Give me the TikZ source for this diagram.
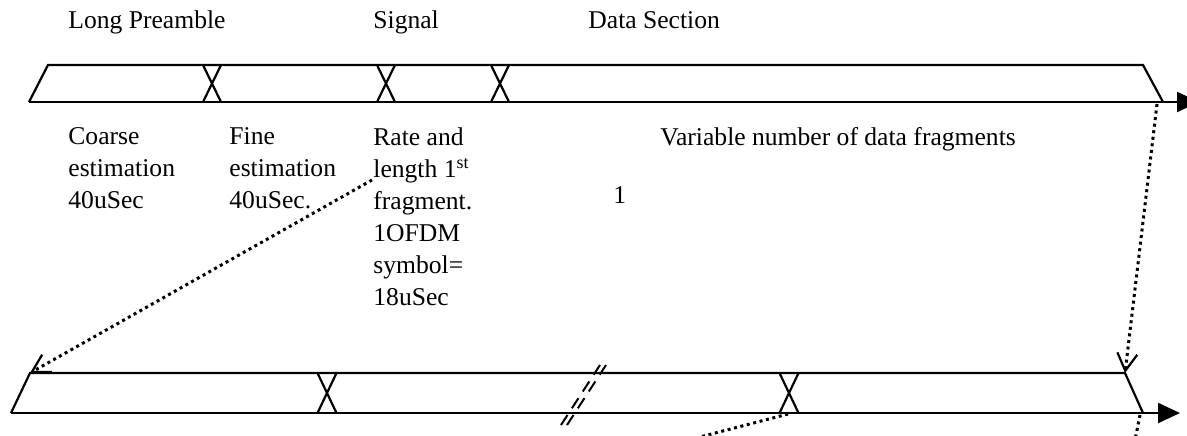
\documentclass[tikz,border=0pt]{standalone}
\usepackage{fontspec}
\setmainfont{Liberation Serif}
\usetikzlibrary{arrows.meta}
\begin{document}
\begin{tikzpicture}[x=0.5pt,y=-0.5pt,
  bar/.style={line width=1.1pt, line join=miter},
  brk/.style={line width=1pt, dash pattern=on 6pt off 4pt},
  dots/.style={line width=1.5pt, dash pattern=on 1.5pt off 1.8pt},
  barb/.style={-{Straight Barb[length=8.7pt,width=10pt,line width=1.1pt]}},
  tri/.style={-{Triangle[length=11pt,width=10pt]}},
  lbl/.style={anchor=base west, inner sep=0pt, font=\fontsize{12.8pt}{16pt}\selectfont},
  blk/.style={anchor=north west, inner sep=0pt, align=left, font=\fontsize{12.8pt}{16pt}\selectfont}]
\clip (0,0) rectangle (1187,435);
% top bar
\coordinate (tl) at (48,65);
\coordinate (tr) at (1143,65);
\coordinate (bl) at (29,102);
\coordinate (br) at (1163,102);
\coordinate (tend) at (1199,102);
\draw[bar] (bl) -- (tl) -- (tr) -- (br);
\draw[bar,tri] (bl) -- (tend);
\foreach \c in {212,386,500}
  \draw[bar] (\c-9,65) -- (\c+9,102) (\c+9,65) -- (\c-9,102);
% bottom bar
\coordinate (Bl) at (11,413);
\coordinate (Btl) at (30,373);
\coordinate (Btr) at (1125,373);
\coordinate (Bbr) at (1143,413);
\coordinate (Bend) at (1180,413);
\draw[bar] (Bl) -- (Btl) -- (Btr) -- (Bbr);
\draw[bar,tri] (Bl) -- (Bend);
\foreach \c in {327,789}
  \draw[bar] (\c-9.5,373) -- (\c+9.5,413) (\c+9.5,373) -- (\c-9.5,413);
% break marks
\draw[brk] (561,425) -- (600,365);
\draw[brk] (567,425) -- (606,365);
% dotted zoom lines
\coordinate (d1) at (372,180);
\coordinate (d2) at (1157,104);
\draw[dots,barb] (d1) -- (Btl);
\draw[dots,barb] (d2) -- (Btr);
\coordinate (e1) at (788,414);
\coordinate (e1b) at (650,450);
\coordinate (e2) at (1140,415);
\coordinate (e2b) at (1135,440);
\draw[dots] (e1) -- (e1b);
\draw[dots] (e2) -- (e2b);
% labels
\node[lbl] (lp) at (68,28) {Long Preamble};
\node[lbl] (sg) at (373,28) {Signal};
\node[lbl] (ds) at (588,28) {Data Section};
\node[blk] (ce) at (68,127) {Coarse\\estimation\\40uSec};
\node[blk] (fe) at (229,127) {Fine\\estimation\\40uSec.};
\node[blk] (rl) at (373,127) {Rate and\\length 1\textsuperscript{st}\\fragment.\\1OFDM\\symbol=\\18uSec};
\node[blk] (vn) at (660,127) {Variable number of data fragments};
\node[lbl] (one) at (613,203) {1};
\end{tikzpicture}
\end{document}
